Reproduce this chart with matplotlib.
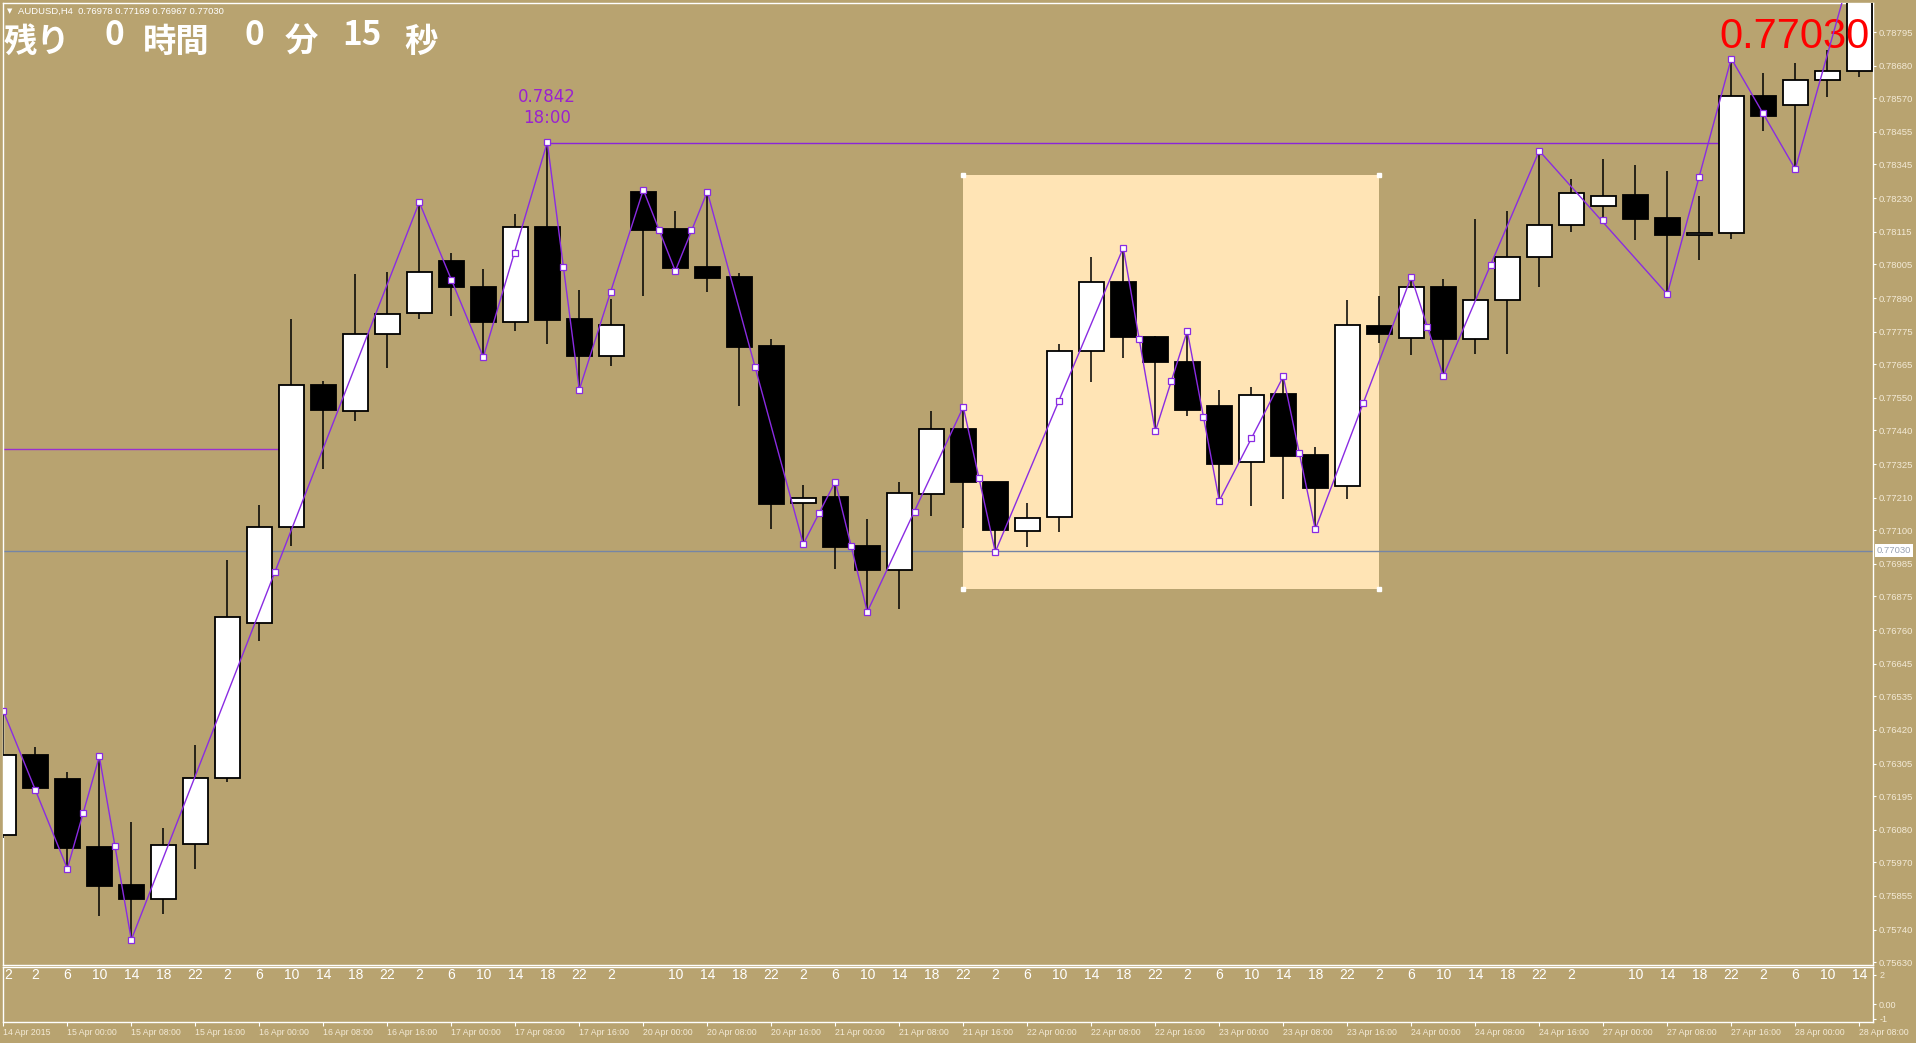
# AUDUSD H4 CANDLE CHART (MT4 STYLE SCREEN) REDRAWN WITH MATPLOTLIB, SAVED AS out.png
import matplotlib
matplotlib.use('Agg')
import matplotlib.pyplot as plt
from matplotlib.patches import Rectangle
import numpy as np

# ---------------------------------SECTION 1--DATA----------------------------------------------------------------------
OPEN = [0.76062, 0.76334, 0.76253, 0.76021, 0.75892, 0.75845, 0.76031, 0.76255, 0.76783, 0.77109,
        0.77595, 0.77504, 0.77767, 0.77840, 0.78016, 0.77929, 0.77810, 0.78133, 0.77818, 0.77692,
        0.78250, 0.78124, 0.77995, 0.77961, 0.77727, 0.77191, 0.77212, 0.77045, 0.76966, 0.77222,
        0.77443, 0.77263, 0.77097, 0.77143, 0.77708, 0.77943, 0.77757, 0.77672, 0.77521, 0.77331,
        0.77563, 0.77355, 0.77249, 0.77795, 0.77753, 0.77926, 0.77749, 0.77882, 0.78028, 0.78137,
        0.78202, 0.78239, 0.78161, 0.78103, 0.78110, 0.78576, 0.78546, 0.78631, 0.78661]
HIGH = [0.76484, 0.76362, 0.76277, 0.76334, 0.76107, 0.76086, 0.76370, 0.76998, 0.77185, 0.77819,
        0.77607, 0.77972, 0.77977, 0.78216, 0.78042, 0.77988, 0.78176, 0.78420, 0.77916, 0.77886,
        0.78258, 0.78186, 0.78252, 0.77975, 0.77750, 0.77253, 0.77265, 0.77138, 0.77264, 0.77505,
        0.77526, 0.77263, 0.77192, 0.77733, 0.78029, 0.78061, 0.77760, 0.77778, 0.77577, 0.77587,
        0.77623, 0.77383, 0.77883, 0.77897, 0.77962, 0.77954, 0.78159, 0.78186, 0.78394, 0.78295,
        0.78363, 0.78342, 0.78322, 0.78237, 0.78705, 0.78655, 0.78690, 0.78734, 0.79105]
LOW = [0.76052, 0.76219, 0.75943, 0.75788, 0.75706, 0.75795, 0.75948, 0.76244, 0.76721, 0.77046,
       0.77308, 0.77470, 0.77652, 0.77817, 0.77830, 0.77689, 0.77778, 0.77734, 0.77578, 0.77657,
       0.77898, 0.77982, 0.77910, 0.77523, 0.77105, 0.77053, 0.76969, 0.76822, 0.76830, 0.77149,
       0.77106, 0.77023, 0.77043, 0.77094, 0.77605, 0.77687, 0.77436, 0.77489, 0.77190, 0.77183,
       0.77207, 0.77103, 0.77207, 0.77738, 0.77697, 0.77623, 0.77698, 0.77698, 0.77926, 0.78113,
       0.78155, 0.78088, 0.77903, 0.78020, 0.78090, 0.78460, 0.78329, 0.78575, 0.78643]
CLOSE = [0.76334, 0.76224, 0.76019, 0.75889, 0.75845, 0.76030, 0.76255, 0.76803, 0.77109, 0.77595,
         0.77508, 0.77766, 0.77837, 0.77977, 0.77929, 0.77809, 0.78133, 0.77816, 0.77691, 0.77797,
         0.78122, 0.77992, 0.77959, 0.77723, 0.77190, 0.77210, 0.77042, 0.76965, 0.77225, 0.77443,
         0.77263, 0.77099, 0.77142, 0.77708, 0.77943, 0.77758, 0.77673, 0.77510, 0.77326, 0.77559,
         0.77353, 0.77244, 0.77797, 0.77766, 0.77926, 0.77749, 0.77882, 0.78028, 0.78137, 0.78246,
         0.78236, 0.78160, 0.78105, 0.78110, 0.78576, 0.78510, 0.78631, 0.78661, 0.78970]

# ZIGZAG TURNING POINTS (BAR INDEX, PRICE)
ZZ_BAR = [0, 2, 3, 4, 13, 15, 17, 18, 20, 21, 22, 25, 26, 27, 30, 31, 35, 36, 37, 38, 40, 41, 44, 45, 48, 52, 54,
          56, 58]
ZZ_PRICE = [0.76484, 0.75948, 0.76330, 0.75706, 0.78216, 0.77689, 0.78420, 0.77578, 0.78258, 0.77982, 0.78252,
            0.77053, 0.77265, 0.76822, 0.77519, 0.77026, 0.78061, 0.77436, 0.77778, 0.77200, 0.77623, 0.77103,
            0.77962, 0.77625, 0.78391, 0.77903, 0.78705, 0.78329, 0.79105]
# SMALL SQUARE MARKS SITTING ON THE ZIGZAG BETWEEN TURNING POINTS
MK_BAR = [1, 2.5, 3.5, 8.5, 14, 16, 17.5, 19, 20.5, 21.5, 23.5, 25.5, 26.5, 28.5, 30.5, 33, 35.5, 36.5, 37.5, 39,
          40.5, 42.5, 44.5, 46.5, 50, 53, 55]
MK_PRICE = [0.76215, 0.76137, 0.76025, 0.76956, 0.77952, 0.78042, 0.77994, 0.77912, 0.78120, 0.78120, 0.77654,
            0.77157, 0.77045, 0.77161, 0.77276, 0.77538, 0.77749, 0.77606, 0.77484, 0.77412, 0.77361, 0.77531,
            0.77790, 0.78001, 0.78154, 0.78301, 0.78518]

PRICE_TICKS = [0.78795, 0.78680, 0.78570, 0.78455, 0.78345, 0.78230, 0.78115, 0.78005, 0.77890, 0.77775,
               0.77665, 0.77550, 0.77440, 0.77325, 0.77210, 0.77100, 0.76985, 0.76875, 0.76760, 0.76645,
               0.76535, 0.76420, 0.76305, 0.76195, 0.76080, 0.75970, 0.75855, 0.75740, 0.75630]

# FIRST LABEL IS THE TAIL OF A '22' CUT BY THE WINDOW EDGE, SO ONLY '2' SHOWS
HOUR_LABELS = ['2', '2', '6', '10', '14', '18', '22', '2', '6', '10', '14', '18', '22', '2', '6', '10', '14',
               '18', '22', '2', '', '10', '14', '18', '22', '2', '6', '10', '14', '18', '22', '2', '6', '10',
               '14', '18', '22', '2', '6', '10', '14', '18', '22', '2', '6', '10', '14', '18', '22', '2', '',
               '10', '14', '18', '22', '2', '6', '10', '14']
DATE_LABELS = ['14 Apr 2015', '15 Apr 00:00', '15 Apr 08:00', '15 Apr 16:00', '16 Apr 00:00', '16 Apr 08:00',
               '16 Apr 16:00', '17 Apr 00:00', '17 Apr 08:00', '17 Apr 16:00', '20 Apr 00:00', '20 Apr 08:00',
               '20 Apr 16:00', '21 Apr 00:00', '21 Apr 08:00', '21 Apr 16:00', '22 Apr 00:00', '22 Apr 08:00',
               '22 Apr 16:00', '23 Apr 00:00', '23 Apr 08:00', '23 Apr 16:00', '24 Apr 00:00', '24 Apr 08:00',
               '24 Apr 16:00', '27 Apr 00:00', '27 Apr 08:00', '27 Apr 16:00', '28 Apr 00:00', '28 Apr 08:00']
DATE_BARS = list(range(0, 59, 2))

BID = 0.77030
HIGH_LINE = 0.78416     # LINE FROM THE 0.7842 HIGH
OLD_LINE = 0.77376      # SHORT LINE ON THE LEFT
BOX_BARS = (30, 43)
BOX_PRICES = (0.76898, 0.78308)
# ---------------------------------SECTION 1--OVER----------------------------------------------------------------------

BG = '#b8a370'
TXT = '#f3ead6'
ZZ = '#8a2be2'
W, H = 1916.0, 1043.0
plt.rcParams['font.family'] = ['Liberation Sans', 'DejaVu Sans']

fig = plt.figure(figsize=(W / 100, H / 100), dpi=100, facecolor=BG)

# --------------------------------------------SECTION 2--MAIN PRICE WINDOW---------------------------------------------
ax = fig.add_axes([3 / W, 1 - 965 / H, 1870 / W, 962 / H])
ax.set_facecolor(BG)
ax.set_xlim(-0.01, 58.43)
ax.set_ylim(0.75620, 0.78894)

ax.add_patch(Rectangle((BOX_BARS[0], BOX_PRICES[0]), BOX_BARS[1] - BOX_BARS[0], BOX_PRICES[1] - BOX_PRICES[0],
                       facecolor='#ffe4b5', edgecolor='none', zorder=1))
ax.plot([BOX_BARS[0], BOX_BARS[1], BOX_BARS[0], BOX_BARS[1]],
        [BOX_PRICES[0], BOX_PRICES[0], BOX_PRICES[1], BOX_PRICES[1]], 's', ms=2.5, color='white', zorder=1.5)

ax.axhline(BID, color='#7585a5', lw=1, zorder=2)
ax.hlines(OLD_LINE, -0.01, 8.62, color='#9a2fd0', lw=1, zorder=2)
ax.hlines(HIGH_LINE, 17, 53.6, color='#8a25d8', lw=1, zorder=2)

O = np.array(OPEN)
HH = np.array(HIGH)
LL = np.array(LOW)
C = np.array(CLOSE)
K = np.arange(len(O))
UP = C >= O
ax.vlines(K, LL, HH, color='black', lw=1.1, zorder=3)
ax.bar(K, np.maximum(np.abs(C - O), 0.00002), bottom=np.minimum(O, C), width=0.77,
       color=np.where(UP, 'white', 'black'), edgecolor='black', linewidth=1.3, zorder=4)

ax.text(1870 / W, 1 - 48 / H, '0.77030', transform=fig.transFigure, ha='right', va='baseline',
        fontsize=30, color='#ff0000', zorder=4.5)

ax.plot(ZZ_BAR, ZZ_PRICE, color=ZZ, lw=1, zorder=5)
ax.plot(ZZ_BAR, ZZ_PRICE, 's', ms=4, mfc='white', mec=ZZ, mew=0.9, zorder=6)
ax.plot(MK_BAR, MK_PRICE, 's', ms=4, mfc='white', mec=ZZ, mew=0.9, zorder=6)

ax.annotate('0.7842\n18:00', xy=(17, 0.78420), xytext=(0, 11), textcoords='offset points', ha='center',
            va='bottom', fontsize=12, color='#9a22d0', family='DejaVu Sans', linespacing=1.2, zorder=6)

ax.set_xticks([])
ax.yaxis.tick_right()
ax.set_yticks(PRICE_TICKS)
ax.set_yticklabels(['%.5f' % p for p in PRICE_TICKS])
ax.tick_params(axis='y', length=2.2, width=0.8, color='white', labelcolor=TXT, labelsize=6.8, pad=2.2)
for sp in ax.spines.values():
    sp.set_color('white')
    sp.set_linewidth(1)

ax.annotate('0.77030', xy=(1, BID), xycoords=('axes fraction', 'data'), xytext=(2.5, 0),
            textcoords='offset points', ha='left', va='center', fontsize=6.8, color='#9aa3b3',
            bbox=dict(boxstyle='square,pad=0.2', fc='white', ec='none'), annotation_clip=False)
# --------------------------------------------SECTION 2 IS OVER--------------------------------------------------------

# --------------------------------------------SECTION 3--LOWER WINDOW AND TIME AXIS------------------------------------
ax2 = fig.add_axes([3 / W, 1 - 1022 / H, 1870 / W, 55 / H])
ax2.set_facecolor(BG)
ax2.set_xlim(-0.01, 58.43)
ax2.set_ylim(-1.24, 2.55)
for k, lab in enumerate(HOUR_LABELS):
    if k == 0:
        ax2.text(0.03, 2.0, lab, ha='left', va='center', fontsize=10, color='white',
                 family=['Liberation Sans Narrow', 'Liberation Sans'])
        continue
    ax2.text(k, 2.0, lab, ha='center', va='center', fontsize=10, color='white',
             family=['Liberation Sans Narrow', 'Liberation Sans'], clip_on=True)
ax2.yaxis.tick_right()
ax2.set_yticks([2, 0, -1])
ax2.set_yticklabels(['2', '0.00', '-1'])
ax2.tick_params(axis='y', length=2.2, width=0.8, color='white', labelcolor=TXT, labelsize=6.5, pad=2.2)
ax2.set_xticks(DATE_BARS)
ax2.set_xticklabels(DATE_LABELS)
ax2.tick_params(axis='x', length=3, width=0.8, color='white', labelcolor=TXT, labelsize=6.3, pad=1.5)
for lbl in ax2.get_xticklabels():
    lbl.set_horizontalalignment('left')
for sp in ax2.spines.values():
    sp.set_color('white')
    sp.set_linewidth(1)
# --------------------------------------------SECTION 3 IS OVER--------------------------------------------------------

# --------------------------------------------SECTION 4--SCREEN TEXTS--------------------------------------------------
fig.text(7 / W, 1 - 11 / H, '\u25bc', fontsize=5, color='white', family='DejaVu Sans', va='center')
fig.text(18 / W, 1 - 11 / H, 'AUDUSD,H4  0.76978 0.77169 0.76967 0.77030', fontsize=6.8, color='white',
         va='center')
for s, x, y in [('残り', 4, 52), ('0', 105, 45), ('時間', 143, 52), ('0', 245, 45), ('分', 285, 52),
                ('15', 342, 45), ('秒', 404, 52)]:
    fig.text(x / W, 1 - y / H, s, fontsize=24, color='white', va='baseline', fontweight='bold',
             family=['Noto Sans CJK JP', 'DejaVu Sans'])

fig.savefig('out.png', dpi=100, facecolor=BG)
